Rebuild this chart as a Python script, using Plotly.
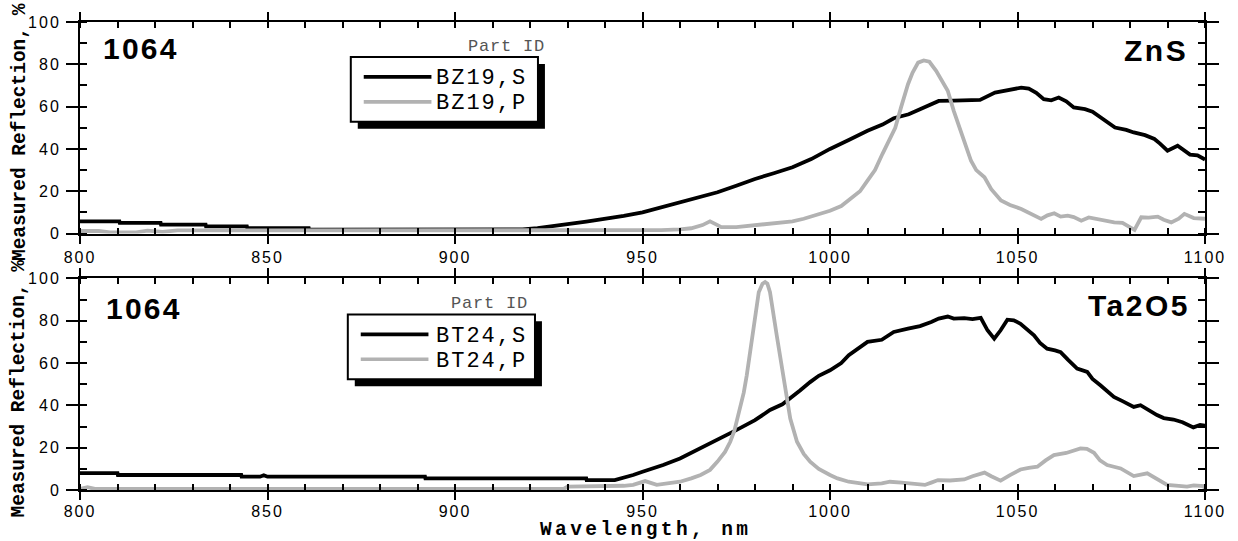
import plotly.graph_objects as go

# ---- Spectra: measured reflection (%) vs wavelength (nm) ----
# ZnS coating, S and P polarisation
zns_s_wl = [800, 810.5, 810.6, 821.5, 821.6, 833.5, 833.6, 844.5, 844.6, 861, 861.1, 880, 900, 912,
            918, 922, 926, 930, 935, 940, 945, 950, 955, 960, 965, 970, 975, 980, 985, 990, 995,
            1000, 1005, 1010, 1014, 1017, 1021, 1025, 1029, 1033, 1037, 1040, 1044, 1048, 1051,
            1053, 1055, 1057, 1059, 1061, 1063, 1065, 1068, 1070, 1072, 1074, 1076, 1079, 1081,
            1084, 1086.5, 1088, 1090, 1092.7, 1094, 1096, 1098, 1100]
zns_s_r = [5.8, 5.8, 5.0, 5.0, 4.2, 4.2, 3.4, 3.4, 2.6, 2.6, 1.8, 1.8, 1.7, 1.7,
           2.0, 2.6, 3.3, 4.4, 5.6, 6.9, 8.3, 10.0, 12.3, 14.8, 17.0, 19.5, 22.6, 25.8, 28.5, 31.3, 35.2,
           40.0, 44.2, 48.6, 51.5, 54.5, 56.4, 59.5, 62.7, 62.8, 63.0, 63.2, 66.6, 67.8, 69.0,
           68.5, 66.5, 63.5, 63.0, 64.3, 62.5, 59.6, 58.8, 57.6, 55.0, 52.5, 50.1, 49.0, 47.8,
           46.5, 44.7, 42.5, 39.2, 41.5, 40.0, 37.3, 37.0, 35.0]

zns_p_wl = [800, 805, 808, 815, 818, 822, 826, 832, 840, 860, 880, 900, 920, 940, 950, 955, 960,
            963, 966, 968, 970, 971, 975, 980, 985, 990, 993, 996, 1000, 1003, 1005, 1008, 1010,
            1012, 1014, 1016, 1017.4, 1019, 1020.8, 1022, 1023.5, 1025, 1026.5, 1028.3, 1030,
            1031.4, 1033, 1035, 1036.5, 1037.6, 1039, 1041.2, 1043, 1045.6, 1048, 1051, 1054,
            1056.3, 1058, 1059.8, 1061.5, 1063.4, 1065, 1067, 1069, 1071.4, 1073, 1075.8, 1078,
            1080, 1081.2, 1083, 1085, 1087.4, 1089, 1091, 1093, 1094.5, 1097, 1100]
zns_p_r = [1.2, 1.2, 0.6, 0.6, 1.4, 0.8, 1.5, 1.5, 1.4, 1.4, 1.3, 1.3, 1.2, 1.2, 1.3, 1.6, 2.0,
           2.5, 4.0, 5.8, 4.0, 3.0, 3.0, 3.8, 4.6, 5.8, 7.0, 8.5, 10.8, 13.0, 15.6, 20.0, 25.0,
           30.0, 37.7, 45.0, 50.0, 60.0, 70.6, 76.0, 80.8, 81.8, 81.2, 76.9, 71.5,
           67.5, 58.0, 47.0, 40.0, 34.4, 30.0, 26.6, 21.0, 15.6, 13.5, 11.6, 9.0,
           6.9, 8.6, 9.6, 8.0, 8.5, 7.8, 6.1, 7.6, 6.9, 6.0, 5.3, 5.0,
           3.0, 1.7, 7.7, 7.5, 8.0, 6.5, 5.3, 7.0, 9.3, 7.3, 7.0]

# Ta2O5 coating, S and P polarisation
ta_s_wl = [800, 810, 810.1, 843, 843.1, 848, 849, 850, 892, 892.1, 935, 935.1, 942.6, 945, 947.5,
           950, 952, 955.5, 960, 965.5, 970, 975, 980, 984, 987.3, 990, 992, 994.7, 997, 1000,
           1003, 1005, 1008, 1010, 1013.8, 1017, 1020.8, 1024, 1027, 1029, 1031.4, 1033, 1035.8,
           1038, 1040.2, 1042, 1043.8, 1045.5, 1047.3, 1049, 1050.8, 1052.5, 1054.4, 1056, 1057.9,
           1060, 1061.5, 1063.5, 1065.9, 1068.6, 1070, 1072.1, 1074, 1075.7, 1078, 1081, 1082.8,
           1085, 1087.2, 1089, 1091.6, 1094, 1096.9, 1098.7, 1100]
ta_s_r = [8.0, 8.0, 7.1, 7.1, 6.3, 6.3, 7.0, 6.3, 6.3, 5.5, 5.5, 4.7, 4.7, 5.8, 7.1,
          8.6, 9.6, 11.8, 14.9, 19.7, 23.6, 28.3, 33.0, 37.8, 40.5, 44.0, 47.0, 51.0, 54.0, 56.6,
          60.0, 63.7, 67.5, 70.0, 71.0, 74.7, 76.3, 77.5, 79.4, 81.0, 82.0, 81.0, 81.2,
          80.8, 81.4, 75.5, 71.5, 75.5, 80.5, 80.2, 78.6, 76.0, 73.1, 69.5, 66.8,
          66.0, 65.2, 61.5, 57.4, 55.8, 52.5, 49.5, 46.5, 44.0, 42.0, 39.3, 40.1,
          37.5, 35.4, 34.0, 33.3, 32.0, 29.6, 30.7, 30.4]

ta_p_wl = [800, 802, 804, 850, 900, 929, 930, 940, 945, 947.5, 950.7, 953.8, 957, 960, 963, 965.5,
           968, 970, 972, 973.4, 974.5, 975.6, 977, 977.8, 979.6, 981, 982, 982.7, 983.3, 984,
           985.8, 987.6, 989.4, 991.2, 993, 994.7, 997, 1000, 1002, 1005, 1008, 1010, 1013.8,
           1016, 1019.1, 1022, 1025.3, 1027, 1028.8, 1032, 1035.8, 1038, 1041.2, 1043, 1045.5,
           1048, 1050.8, 1053, 1055.3, 1057.5, 1059.7, 1063, 1066.8, 1068.5, 1070.4, 1072,
           1073.9, 1077.5, 1079, 1081, 1084.6, 1087, 1089.9, 1093, 1095.2, 1097, 1099.6, 1100]
ta_p_r = [0.5, 1.3, 0.5, 0.4, 0.4, 0.5, 1.6, 1.6, 2.0, 2.4, 4.2, 2.4, 3.0, 3.9, 5.5, 7.1,
          9.5, 13.4, 18.0, 22.8, 28.0, 35.4, 46.0, 54.2, 76.3, 93.5, 97.5, 98.3, 97.5, 93.5,
          73.0, 54.2, 33.8, 22.8, 17.0, 13.4, 10.0, 7.1, 5.5, 3.9, 3.2, 2.7, 3.1,
          3.9, 3.5, 3.0, 2.4, 3.5, 4.7, 4.5, 5.0, 6.5, 8.2, 6.5, 4.4,
          7.0, 9.7, 10.5, 11.0, 14.0, 16.5, 17.5, 19.7, 19.5, 17.6, 14.0,
          11.8, 10.2, 8.5, 6.6, 7.9, 5.5, 2.4, 2.0, 1.6, 2.2, 1.9, 0.5]

x_ticks = [800, 850, 900, 950, 1000, 1050, 1100]
y_ticks = [0, 20, 40, 60, 80, 100]

BLACK = "#000000"
GREY = "#b2b2b2"

# ---- Page geometry (pixels) ----
W, H = 1238, 541
L, R, T, B = 80, 28, 21, 51
PW, PH = W - L - R, H - T - B


def px(x):
    return (x - L) / PW


def py(y):
    return (H - B - y) / PH


def spaced(text, ls):
    # widen the tracking of a label
    return f"<span style='letter-spacing:{ls}px'>{text}</span>"


TOP_DOM = [py(233), 1.0]
BOT_DOM = [0.0, py(278)]

fig = go.Figure()
fig.add_trace(go.Scatter(x=zns_s_wl, y=zns_s_r, mode="lines", name="BZ19,S",
                         line=dict(color=BLACK, width=3.8), xaxis="x", yaxis="y"))
fig.add_trace(go.Scatter(x=zns_p_wl, y=zns_p_r, mode="lines", name="BZ19,P",
                         line=dict(color=GREY, width=3.8), xaxis="x", yaxis="y"))
fig.add_trace(go.Scatter(x=ta_s_wl, y=ta_s_r, mode="lines", name="BT24,S",
                         line=dict(color=BLACK, width=3.8), xaxis="x2", yaxis="y2"))
fig.add_trace(go.Scatter(x=ta_p_wl, y=ta_p_r, mode="lines", name="BT24,P",
                         line=dict(color=GREY, width=3.8), xaxis="x2", yaxis="y2"))

tick_font = dict(family="Liberation Sans", size=16, color=BLACK)

xcommon = dict(range=[800, 1100], tickvals=x_ticks,
               ticktext=[spaced(v, 2) for v in x_ticks],
               ticks="outside", ticklen=8, tickwidth=2,
               tickcolor=BLACK, showline=True, linecolor=BLACK, linewidth=2, mirror="allticks",
               showgrid=False, zeroline=False, tickfont=tick_font,
               minor=dict(dtick=10, tick0=800, ticks="inside", ticklen=6, tickwidth=2,
                          tickcolor=BLACK, showgrid=False))
ycommon = dict(range=[0, 100], tickvals=y_ticks,
               ticktext=[spaced(v, 2) for v in y_ticks],
               ticks="outside", ticklen=12, tickwidth=2,
               tickcolor=BLACK, showline=True, linecolor=BLACK, linewidth=2, mirror="allticks",
               showgrid=False, zeroline=False, tickfont=tick_font, ticklabelstandoff=2,
               minor=dict(dtick=10, tick0=0, ticks="inside", ticklen=7, tickwidth=2,
                          tickcolor=BLACK, showgrid=False))

fig.update_layout(
    width=W, height=H,
    margin=dict(l=L, r=R, t=T, b=B, pad=0),
    paper_bgcolor="white", plot_bgcolor="white",
    showlegend=False,
    xaxis=dict(domain=[0, 1], anchor="y", **xcommon),
    yaxis=dict(domain=TOP_DOM, anchor="x", **ycommon),
    xaxis2=dict(domain=[0, 1], anchor="y2", ticklabelstandoff=-2, **xcommon),
    yaxis2=dict(domain=BOT_DOM, anchor="x2", **ycommon),
)

annotations = []
shapes = []

big = dict(family="Liberation Sans", size=30, color=BLACK)
mono = "Liberation Mono"


def add_text(text, x, y, font, xanchor="center", yanchor="middle", angle=0):
    annotations.append(dict(text=text, x=px(x), y=py(y), xref="paper", yref="paper",
                            showarrow=False, xanchor=xanchor, yanchor=yanchor,
                            textangle=angle, font=font, borderpad=0))


# Panel labels
add_text("<b>" + spaced("1064", 2.2) + "</b>", 102, 48, big, xanchor="left")
add_text("<b>" + spaced("ZnS", 2.5) + "</b>", 1194, 50, big, xanchor="right")
add_text("<b>" + spaced("1064", 2.2) + "</b>", 105, 308, big, xanchor="left")
add_text("<b>" + spaced("Ta2O5", 2.5) + "</b>", 1196, 305, big, xanchor="right")

# Axis titles
ytitle_font = dict(family=mono, size=19.5, color=BLACK)
add_text("<b>Measured Reflection, %</b>", 19, 131, ytitle_font, angle=-90)
add_text("<b>Measured Reflection, %</b>", 19, 388, ytitle_font, angle=-90)
add_text("<b>" + spaced("Wavelength, nm", 3.4) + "</b>", 648, 530.5,
         dict(family=mono, size=19.5, color=BLACK))


def legend_box(x0, y0, x1, y1, title_right, title_y, names, line_x0, line_x1, row_y, text_x):
    # drop shadow, then framed white box
    shapes.append(dict(type="rect", xref="paper", yref="paper", layer="above",
                       x0=px(x0 + 7), x1=px(x1 + 7), y0=py(y0 + 7), y1=py(y1 + 7),
                       fillcolor=BLACK, line=dict(width=0)))
    shapes.append(dict(type="rect", xref="paper", yref="paper", layer="above",
                       x0=px(x0), x1=px(x1), y0=py(y0), y1=py(y1),
                       fillcolor="white", line=dict(color=BLACK, width=2)))
    add_text(spaced("Part ID", 0.8), title_right, title_y,
             dict(family=mono, size=17, color="#555555"), xanchor="right")
    for (name, color), yy in zip(names, row_y):
        shapes.append(dict(type="line", xref="paper", yref="paper", layer="above",
                           x0=px(line_x0), x1=px(line_x1), y0=py(yy), y1=py(yy),
                           line=dict(color=color, width=3.6)))
        add_text(spaced(name, 2), text_x, yy + 2, dict(family=mono, size=22, color=BLACK),
                 xanchor="left")


legend_box(352, 56, 540, 121, 548, 46, [("BZ19,S", BLACK), ("BZ19,P", GREY)],
           365, 433, [76, 101], 437)
legend_box(349, 314, 537, 379, 531, 303, [("BT24,S", BLACK), ("BT24,P", GREY)],
           362, 430, [334, 359], 437)

fig.update_layout(annotations=annotations, shapes=shapes)

fig.write_html("out.html")
